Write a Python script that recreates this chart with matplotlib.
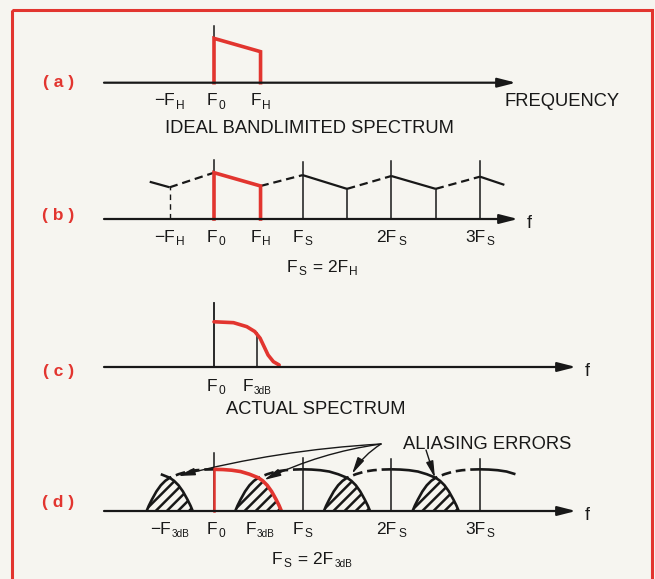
import numpy as np
import matplotlib
matplotlib.use('Agg')
import matplotlib.pyplot as plt
from matplotlib import ft2font, font_manager
from matplotlib.transforms import blended_transform_factory as blend
from matplotlib.patches import Rectangle

# ---------------- data (frequency in units of F_H; F0 = 0, FS = 2) ----------------
# (a) ideal band-limited spectrum
a_tick_f = [-1.0, 0.0, 1.05]
a_tick_labels = ['−F_{H}', 'F_{0}', 'F_{H}']
a_band_f = [0.0, 0.0, 1.05, 1.05]
a_band_amp = [0.0, 1.0, 0.70, 0.0]
a_f0_top = 1.28

# (b) sampled ideal spectrum, FS = 2FH
b_tick_f = [-1.0, 0.0, 1.05, 2.0, 4.0, 6.0]
b_tick_labels = ['−F_{H}', 'F_{0}', 'F_{H}', 'F_{S}', '2F_{S}', '3F_{S}']
b_f = [-1.45, -1.0, 0.0, 1.05, 2.0, 3.0, 4.0, 5.0, 6.0, 6.55]
b_amp = [0.84, 0.715, 1.045, 0.745, 0.99, 0.68, 0.97, 0.68, 0.955, 0.77]
b_seg_style = ['solid', 'dashed', 'red', 'dashed', 'solid', 'dashed', 'solid', 'dashed', 'solid']
b_line_f = [0.0, 2.0, 4.0, 6.0]
b_line_top = [1.33, 1.29, 1.30, 1.30]

# (c) actual spectrum
c_tick_f = [0.0, 0.97]
c_tick_labels = ['F_{0}', 'F_{3dB}']
c_f = [0.0, 0.44, 0.74, 0.92, 1.04, 1.13, 1.22, 1.34, 1.47]
c_amp = [1.02, 1.00, 0.91, 0.80, 0.65, 0.46, 0.27, 0.12, 0.045]
c_f0_top = 1.44
c_3db_f = 0.97
c_3db_amp = 0.76

# (d) sampled actual spectrum, FS = 2F3dB
d_tick_f = [-1.0, 0.0, 1.04, 2.0, 4.0, 6.0]
d_tick_labels = ['−F_{3dB}', 'F_{0}', 'F_{3dB}', 'F_{S}', '2F_{S}', '3F_{S}']
hump_off = np.array([0.0, 0.2, 0.4, 0.6, 0.8, 0.9, 1.0, 1.1, 1.2, 1.3, 1.4, 1.47, 1.52])
hump_amp = np.array([0.94, 0.935, 0.92, 0.89, 0.83, 0.79, 0.75, 0.68, 0.58, 0.44, 0.26, 0.12, 0.0])
# (centre, side, offset from, offset to, style)
d_parts = [(-2, 1, 0.8, 1.52, 'solid'),
           (0, -1, 1.0, 1.52, 'solid'), (0, -1, 0.0, 1.0, 'dashed'), (0, 1, 0.0, 1.52, 'red'),
           (2, -1, 1.0, 1.52, 'solid'), (2, -1, 0.0, 1.0, 'dashed'), (2, 1, 0.0, 1.52, 'solid'),
           (4, -1, 1.0, 1.52, 'solid'), (4, -1, 0.0, 1.0, 'dashed'), (4, 1, 0.0, 1.52, 'solid'),
           (6, -1, 1.0, 1.52, 'solid'), (6, -1, 0.0, 1.0, 'dashed'), (6, 1, 0.0, 0.8, 'solid')]
d_alias_f = [-1.0, 1.0, 3.0, 5.0]
d_line_f = [0.0, 2.0, 4.0, 6.0]
d_line_top = [1.31, 1.20, 1.17, 1.17]

# ---------------- layout / style ----------------
W, H, DPI = 655, 579, 100
X0_PX, UNIT_PX = 214.0, 44.33
BG = '#f6f5f0'
K = '#181818'
RED = '#e2352f'
FONT = 'Liberation Sans'
plt.rcParams['font.family'] = [FONT, 'DejaVu Sans']
plt.rcParams['hatch.linewidth'] = 1.8
plt.rcParams['lines.scale_dashes'] = False

fig = plt.figure(figsize=(W / DPI, H / DPI), dpi=DPI, facecolor=BG)
ov = fig.add_axes([0, 0, 1, 1])
ov.set_xlim(0, W)
ov.set_ylim(H, 0)
ov.axis('off')
ov.patch.set_alpha(0)


def panel(base_px):
    ax = fig.add_axes([0, 0, 1, 1])
    ax.set_xlim(-X0_PX / UNIT_PX, (W - X0_PX) / UNIT_PX)
    ax.set_ylim((base_px - H) / UNIT_PX, base_px / UNIT_PX)
    ax.axis('off')
    ax.patch.set_alpha(0)
    return ax


# ----- text made of a main part and lowered subscripts -----
_fpath = {}
_LF = getattr(ft2font, 'LoadFlags', None)
NOHINT = _LF.NO_HINTING if _LF is not None else ft2font.LOAD_NO_HINTING


def width_px(s, size, weight):
    if weight not in _fpath:
        _fpath[weight] = font_manager.findfont(font_manager.FontProperties(family=FONT, weight=weight))
    f = ft2font.FT2Font(_fpath[weight])
    f.set_size(size, DPI)
    w = 0.0
    for ch in s:
        w += f.load_char(ord(ch), flags=NOHINT).linearHoriAdvance / 65536.0
    return w


def parse(s, size):
    segs, i = [], 0
    while i < len(s):
        if s.startswith('_{', i):
            j = s.index('}', i)
            sub = s[i + 2:j]
            segs.append((sub, 7.2 if len(sub) > 1 else 8.6, -3.2))
            i = j + 1
        else:
            j = s.find('_{', i)
            if j == -1:
                j = len(s)
            segs.append((s[i:j], size, 0.0))
            i = j
    return segs


def rich(xy, coords, s, size=12.5, color=K, weight='normal', gap=1.2, dx=0.0):
    segs = parse(s, size)
    widths = [width_px(t, sz, weight) for t, sz, _ in segs]
    total = sum(widths) + gap * (len(segs) - 1)
    pen = -total / 2 + dx
    for (t, sz, sdy), w in zip(segs, widths):
        ov.annotate(t, xy=xy, xycoords=coords,
                    xytext=(pen * 72 / DPI, sdy * 72 / DPI),
                    textcoords='offset points', ha='left', va='baseline',
                    fontsize=sz, family=FONT, weight=weight, color=color,
                    annotation_clip=False)
        pen += w + gap


def freq_axis(ax, tip_px, base_px, tick_f, tick_labels, label_base_px, f_label=True):
    tr = blend(ov.transData, ax.transData)
    ax.annotate('', xy=(tip_px, 0), xycoords=tr, xytext=(104, 0), textcoords=tr,
                arrowprops=dict(arrowstyle='-|>,head_length=1.1,head_width=0.28',
                                lw=1.6, color=K, shrinkA=0, shrinkB=0), zorder=6)
    if f_label:
        rich((tip_px + 11, base_px + 8.5), ov.transData, 'f', size=13)
    trl = blend(ax.transData, ov.transData)
    for f, lab in zip(tick_f, tick_labels):
        rich((f, label_base_px), trl, lab, dx=2.0 if lab == 'F_{0}' else 0.0)


def panel_label(letter, y_px):
    rich((58, y_px), ov.transData, '( ' + letter + ' )', size=12.5, color=RED, weight='bold')


# ================= (a) =================
A_BASE = 82.7
axa = panel(A_BASE)
axa.plot([0, 0], [0, a_f0_top], color=K, lw=1.1, zorder=2)
axa.plot(a_band_f, a_band_amp, color=RED, lw=2.6, solid_joinstyle='miter', zorder=4)
freq_axis(axa, 516, A_BASE, a_tick_f, a_tick_labels, 105.4, f_label=False)
rich((562.5, 105.6), ov.transData, 'FREQUENCY', size=13.2)
rich((310, 133.0), ov.transData, 'IDEAL BANDLIMITED SPECTRUM', size=13.2)
panel_label('a', 86.5)

# ================= (b) =================
B_BASE = 219.0
axb = panel(B_BASE)
for f, top in zip(b_line_f, b_line_top):
    axb.plot([f, f], [0, top], color=K, lw=1.1, zorder=2)
for i, st in enumerate(b_seg_style):
    xs, ys = b_f[i:i + 2], b_amp[i:i + 2]
    if st == 'solid':
        axb.plot(xs, ys, color=K, lw=1.6, solid_capstyle='butt', zorder=3)
    elif st == 'dashed':
        axb.plot(xs, ys, color=K, lw=1.6, ls=(0, (6, 3.5)), zorder=3)
# verticals up to the curve at the troughs
for i in [5, 7]:
    axb.plot([b_f[i], b_f[i]], [0, b_amp[i]], color=K, lw=1.1, zorder=2)
axb.plot([b_f[1], b_f[1]], [0, b_amp[1]], color=K, lw=1.0, ls=(0, (4, 3)), zorder=2)
axb.plot([b_f[2], b_f[2], b_f[3], b_f[3]], [0, b_amp[2], b_amp[3], 0],
         color=RED, lw=2.6, solid_joinstyle='miter', zorder=4)
freq_axis(axb, 518, B_BASE, b_tick_f, b_tick_labels, 241.6)
rich((322, 271.6), ov.transData, 'F_{S} = 2F_{H}', gap=1.5)
panel_label('b', 219.8)

# ================= (c) =================
C_BASE = 367.0
axc = panel(C_BASE)
axc.plot([0, 0], [0, c_f0_top], color=K, lw=1.3, zorder=2)
axc.plot([c_3db_f, c_3db_f], [0, c_3db_amp], color=K, lw=1.1, zorder=2)
axc.plot(c_f, c_amp, color=RED, lw=2.6, solid_capstyle='round', zorder=4)
freq_axis(axc, 576, C_BASE, c_tick_f, c_tick_labels, 391.2)
rich((316, 414.3), ov.transData, 'ACTUAL SPECTRUM', size=13.2)
panel_label('c', 375.8)

# ================= (d) =================
D_BASE = 511.0
axd = panel(D_BASE)
for f, top in zip(d_line_f, d_line_top):
    axd.plot([f, f], [0, top], color=K, lw=1.1, zorder=2)
axd.plot([0, 0], [0, hump_amp[0]], color=RED, lw=1.8, zorder=4)


def half(centre, side, lo, hi):
    m = (hump_off >= lo - 1e-9) & (hump_off <= hi + 1e-9)
    return centre + side * hump_off[m], hump_amp[m]


for c in d_alias_f:
    lx, ly = half(c + 1, -1, 1.0, 1.52)
    rx, ry = half(c - 1, 1, 1.0, 1.52)
    xs = np.concatenate([lx[::-1], rx[1:]])
    ys = np.concatenate([ly[::-1], ry[1:]])
    axd.fill(xs, ys, facecolor='none', edgecolor=K, hatch='///', lw=0, zorder=1)

for centre, side, lo, hi, st in d_parts:
    xs, ys = half(centre, side, lo, hi)
    if st == 'solid':
        axd.plot(xs, ys, color=K, lw=1.9, solid_capstyle='butt', zorder=3)
    elif st == 'dashed':
        axd.plot(xs, ys, color=K, lw=1.9, ls=(0, (7, 3.5)), zorder=3)
    else:
        axd.plot(xs, ys, color=RED, lw=2.6, solid_capstyle='butt', zorder=4)

freq_axis(axd, 576, D_BASE, d_tick_f, d_tick_labels, 533.6)
rich((312, 564.0), ov.transData, 'F_{S} = 2F_{3dB}', gap=1.5)
rich((487.5, 449.3), ov.transData, 'ALIASING ERRORS', size=13.2)
panel_label('d', 506.5)

arrow_kw = dict(arrowstyle='-|>,head_length=1.0,head_width=0.22', lw=1.0, color=K,
                shrinkA=0, shrinkB=0)
for (x0, y0), (x1, y1), rad in [((381, 444), (178, 476), 0.05),
                                ((381, 444), (264, 480), 0.08),
                                ((381, 444), (352, 474), 0.12),
                                ((426, 450), (435, 478), 0.0)]:
    ov.annotate('', xy=(x1, y1), xytext=(x0, y0), xycoords='data', textcoords='data',
                arrowprops=dict(connectionstyle=f'arc3,rad={rad}', **arrow_kw))

# red frame
ov.add_patch(Rectangle((12, 10), 640, 620, fill=False, edgecolor=RED, lw=2.2, clip_on=False))

fig.savefig('out.png', dpi=DPI, facecolor=BG)
